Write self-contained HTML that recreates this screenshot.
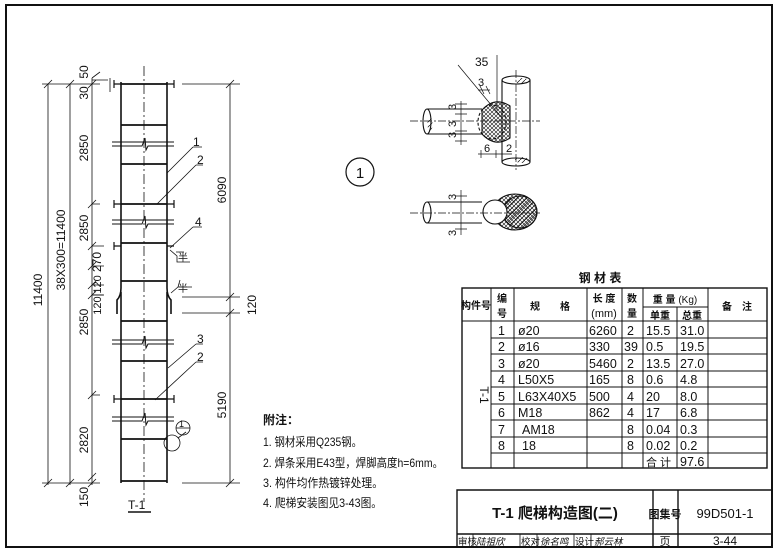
<!DOCTYPE html>
<html><head><meta charset="utf-8"><style>
html,body{margin:0;padding:0;background:#fff}
svg{display:block}
text{font-family:"Liberation Sans","Noto Sans CJK SC",sans-serif;fill:#111}
</style></head><body>
<svg width="778" height="556" viewBox="0 0 778 556" xmlns="http://www.w3.org/2000/svg">
<defs>
<pattern id="xh" width="4" height="4" patternUnits="userSpaceOnUse"><path d="M0 0L4 4M4 0L0 4" stroke="#111" stroke-width="0.6"/></pattern>
<pattern id="dh" width="5" height="5" patternUnits="userSpaceOnUse"><path d="M0 5L5 0" stroke="#111" stroke-width="0.7"/></pattern>
</defs>
<g fill="none" stroke="#111">
<rect x="6" y="5" width="766" height="542" stroke-width="2"/>
<g stroke-width="1.6">
<path d="M121 82V288Q121 296 117 300V314"/>
<path d="M167 82V288Q167 296 171 300V314"/>
<path d="M121 292V483"/><path d="M167 292V483"/>
</g>
<g stroke-width="1.8">
<path d="M121 84H167M121 125H167M121 164H167M121 204H167M121 243H167M121 281H167M121 321H167M121 361H167M121 399H167M121 439H167M121 481H167"/>
</g>
<g stroke-width="1.2">
<path d="M114 84H121M114 80V88M167 84H174M174 80V88"/>
<path d="M114 204H121M114 200V208M167 204H174M174 200V208"/>
<path d="M114 246H121M114 242V250M167 246H174"/>
<path d="M114 399H121M114 395V403M167 399H174M174 395V403"/>
</g>
<g stroke-width="1">
<path d="M112 142H174M112 146H142L145 138L146 150L148 146H174"/>
<path d="M112 220H174M112 224H142L145 216L146 228L148 224H174"/>
<path d="M112 340H174M112 344H142L145 336L146 348L148 344H174"/>
<path d="M112 417H174M112 421H142L145 413L146 425L148 421H174"/>
</g>
<path d="M144 66V502" stroke-width="0.8" stroke-dasharray="10 3 2 3"/>
<g stroke-width="0.8">
<path d="M48 84V485M70 84V485M92 78V485"/>
<path d="M42 84H100M42 483H100M110 78V92"/>
<path d="M44 88L52 80M66 88L74 80M88 88L96 80M44 487L52 479M66 487L74 479M88 487L96 479M88 481L96 473"/>
<path d="M88 208L96 200M88 250L96 242M88 270L96 262M88 289L96 281M88 299L96 291M88 399L96 391M92 78L100 72M92 80H108"/>
<path d="M92 204H100M92 246H104M92 266H104M92 285H104M92 295H104M92 395H100"/>
</g>
<g stroke-width="0.8">
<path d="M182 84H240M182 297H240M182 313H240M182 483H240M230 84V483"/>
<path d="M226 88L234 80M226 301L234 293M226 317L234 309M226 487L234 479"/>
</g>
<g stroke-width="0.8">
<path d="M193 147H202M193 147L167 173"/>
<path d="M196 165H203M196 165L157 204"/>
<path d="M193 227H202M193 227L170 248"/>
<path d="M196 344H203M196 344L168 368"/>
<path d="M196 362H203M196 362L155 400"/>
<path d="M170 250L177 256V262H190M176 252H184"/>
<path d="M171 293L178 287H192M178 287L180 280"/>
<circle cx="172" cy="443" r="8"/>
<path d="M178 438L186 432"/>
<circle cx="183" cy="428" r="7"/>
<path d="M176 428H190"/>
</g>
<path d="M128 512H151" stroke-width="1.4"/>
<circle cx="360" cy="172" r="14" stroke-width="1.2"/>
<g stroke-width="1.1">
<path d="M427 109H482M427 134H482"/>
<ellipse cx="427" cy="121.5" rx="4" ry="12.5"/>
<path d="M502 80V162M530 80V162"/>
<ellipse cx="516" cy="80" rx="14" ry="4"/>
<ellipse cx="516" cy="162" rx="14" ry="4"/>
<path d="M482 110Q495 96 510 106V138Q495 148 482 134Z" fill="url(#xh)"/>
<ellipse cx="492" cy="122" rx="14" ry="17" stroke-dasharray="3 2"/>
</g>
<ellipse cx="430" cy="124" rx="2.5" ry="7" fill="url(#dh)" stroke="none"/>
<ellipse cx="522" cy="81" rx="7" ry="3" fill="url(#dh)" stroke="none"/>
<ellipse cx="522" cy="160" rx="7" ry="3" fill="url(#dh)" stroke="none"/>
<g stroke-width="0.7">
<path d="M410 121H540" stroke-dasharray="8 2 2 2"/>
<path d="M516 70V170" stroke-dasharray="8 2 2 2"/>
<path d="M458 65L502 118M497 55V110M461 101V145M455 104H467M455 114H467M455 131H467M455 141H467"/>
<path d="M478 90H490M480 86L484 94M486 86L490 94M478 154H512M481 150V158M496 150V158M502 150V158"/>
</g>
<g stroke-width="1.1">
<path d="M427 202H482M427 223H482"/>
<ellipse cx="427" cy="212.5" rx="4" ry="10.5"/>
<ellipse cx="515" cy="212" rx="22" ry="18" fill="url(#xh)"/>
<ellipse cx="520" cy="212" rx="17" ry="16" fill="url(#dh)"/>
<circle cx="495" cy="212" r="12" fill="#fff"/>
</g>
<path d="M410 213H540" stroke-width="0.7" stroke-dasharray="8 2 2 2"/>
<path d="M461 190V235M455 196H467M455 229H467" stroke-width="0.7"/>
<g stroke-width="1">
<rect x="462" y="288" width="305" height="180" stroke-width="1.4"/>
<path d="M462 321H767M491 338H767M491 354H767M491 371H767M491 387H767M491 404H767M491 420H767M491 437H767M491 453H767"/>
<path d="M491 288V468M514 288V468M587 288V468M622 288V468M643 288V468M677 307V468M708 288V468M643 307H708"/>
</g>
<g stroke-width="1.4">
<path d="M457 547V490H772M457 534H772M653 490V547M678 490V547"/>
</g>
<g stroke-width="0.8"><path d="M473 534V547M520 534V547M537 534V547M574 534V547M591 534V547"/></g>
</g>
<g font-size="12">
<text transform="translate(42 290) rotate(-90)" text-anchor="middle">11400</text>
<text transform="translate(65 250) rotate(-90)" text-anchor="middle">38X300=11400</text>
<text transform="translate(88 72) rotate(-90)" text-anchor="middle">50</text>
<text transform="translate(88 93) rotate(-90)" text-anchor="middle">30</text>
<text transform="translate(88 148) rotate(-90)" text-anchor="middle">2850</text>
<text transform="translate(88 228) rotate(-90)" text-anchor="middle">2850</text>
<text transform="translate(101 262) rotate(-90)" text-anchor="middle">270</text>
<text transform="translate(101 295) rotate(-90)" text-anchor="middle" font-size="11">120|120</text>
<text transform="translate(88 322) rotate(-90)" text-anchor="middle">2850</text>
<text transform="translate(88 440) rotate(-90)" text-anchor="middle">2820</text>
<text transform="translate(88 497) rotate(-90)" text-anchor="middle">150</text>
<text transform="translate(226 190) rotate(-90)" text-anchor="middle">6090</text>
<text transform="translate(256 305) rotate(-90)" text-anchor="middle">120</text>
<text transform="translate(226 405) rotate(-90)" text-anchor="middle">5190</text>
<text x="193" y="146">1</text><text x="197" y="164">2</text><text x="195" y="226">4</text>
<text x="197" y="343">3</text><text x="197" y="361">2</text>
<text x="179" y="427" font-size="9">1</text>
<text x="128" y="509">T-1</text>
<text x="178" y="261" font-size="10">半</text><text x="178" y="292" font-size="10">半</text>
<text x="360" y="178" text-anchor="middle" font-size="15">1</text>
<text x="475" y="66">35</text><text x="478" y="86" font-size="11">3</text>
<text transform="translate(456 110) rotate(-90)" font-size="11">3</text>
<text transform="translate(456 127) rotate(-90)" font-size="11">3</text>
<text transform="translate(456 138) rotate(-90)" font-size="11">3</text>
<text x="484" y="152" font-size="11">6</text><text x="506" y="152" font-size="11">2</text>
<text transform="translate(456 200) rotate(-90)" font-size="11">3</text>
<text transform="translate(456 236) rotate(-90)" font-size="11">3</text>
</g>
<text x="600" y="282" font-size="12" text-anchor="middle" font-weight="bold">钢 材 表</text>
<g font-size="10" font-weight="bold">
<text x="476" y="309" text-anchor="middle">构件号</text>
<text x="502" y="302" text-anchor="middle">编</text><text x="502" y="317" text-anchor="middle">号</text>
<text x="550" y="310" text-anchor="middle">规　　格</text>
<text x="604" y="302" text-anchor="middle">长 度</text>
<text x="604" y="317" text-anchor="middle" font-weight="normal" font-size="11">(mm)</text>
<text x="632" y="302" text-anchor="middle">数</text><text x="632" y="317" text-anchor="middle">量</text>
<text x="675" y="303" text-anchor="middle">重 量 <tspan font-weight="normal">(Kg)</tspan></text>
<text x="660" y="319" text-anchor="middle">单重</text><text x="692" y="319" text-anchor="middle">总重</text>
<text x="737" y="310" text-anchor="middle">备　注</text>
</g>
<text transform="translate(480 395) rotate(90)" font-size="12" text-anchor="middle">T-1</text>
<g font-size="12.5">
<text x="498" y="335">1</text><text x="518" y="335">ø20</text><text x="589" y="335">6260</text><text x="627" y="335">2</text><text x="646" y="335">15.5</text><text x="680" y="335">31.0</text>
<text x="498" y="351">2</text><text x="518" y="351">ø16</text><text x="589" y="351">330</text><text x="624" y="351">39</text><text x="646" y="351">0.5</text><text x="680" y="351">19.5</text>
<text x="498" y="368">3</text><text x="518" y="368">ø20</text><text x="589" y="368">5460</text><text x="627" y="368">2</text><text x="646" y="368">13.5</text><text x="680" y="368">27.0</text>
<text x="498" y="384">4</text><text x="518" y="384">L50X5</text><text x="589" y="384">165</text><text x="627" y="384">8</text><text x="646" y="384">0.6</text><text x="680" y="384">4.8</text>
<text x="498" y="401">5</text><text x="518" y="401">L63X40X5</text><text x="589" y="401">500</text><text x="627" y="401">4</text><text x="646" y="401">20</text><text x="680" y="401">8.0</text>
<text x="498" y="417">6</text><text x="518" y="417">M18</text><text x="589" y="417">862</text><text x="627" y="417">4</text><text x="646" y="417">17</text><text x="680" y="417">6.8</text>
<text x="498" y="434">7</text><text x="522" y="434">AM18</text><text x="627" y="434">8</text><text x="646" y="434">0.04</text><text x="680" y="434">0.3</text>
<text x="498" y="450">8</text><text x="522" y="450">18</text><text x="627" y="450">8</text><text x="646" y="450">0.02</text><text x="680" y="450">0.2</text>
<text x="646" y="466" font-size="11">合 计</text><text x="680" y="466">97.6</text>
</g>
<g font-size="12">
<text x="263" y="424" font-weight="bold">附注：</text>
<text x="263" y="446" textLength="99" lengthAdjust="spacingAndGlyphs">1.  钢材采用Q235钢。</text>
<text x="263" y="467" textLength="180" lengthAdjust="spacingAndGlyphs">2.  焊条采用E43型，焊脚高度h=6mm。</text>
<text x="263" y="487" textLength="120" lengthAdjust="spacingAndGlyphs">3.  构件均作热镀锌处理。</text>
<text x="263" y="507" textLength="119" lengthAdjust="spacingAndGlyphs">4.  爬梯安装图见3-43图。</text>
</g>
<text x="555" y="518" font-size="15" text-anchor="middle" font-weight="bold">T-1 爬梯构造图(二)</text>
<text x="665" y="518" font-size="11" text-anchor="middle" font-weight="bold">图集号</text>
<text x="725" y="518" font-size="13" text-anchor="middle">99D501-1</text>
<text x="665" y="545" font-size="11" text-anchor="middle">页</text>
<text x="725" y="545" font-size="12" text-anchor="middle">3-44</text>
<g font-size="9.5">
<text x="458" y="545">审核</text><text x="476" y="545" font-style="italic">陆祖欣</text>
<text x="521" y="545">校对</text><text x="540" y="545" font-style="italic">徐名鸣</text>
<text x="575" y="545">设计</text><text x="594" y="545" font-style="italic">郝云林</text>
</g>
</svg>
</body></html>
